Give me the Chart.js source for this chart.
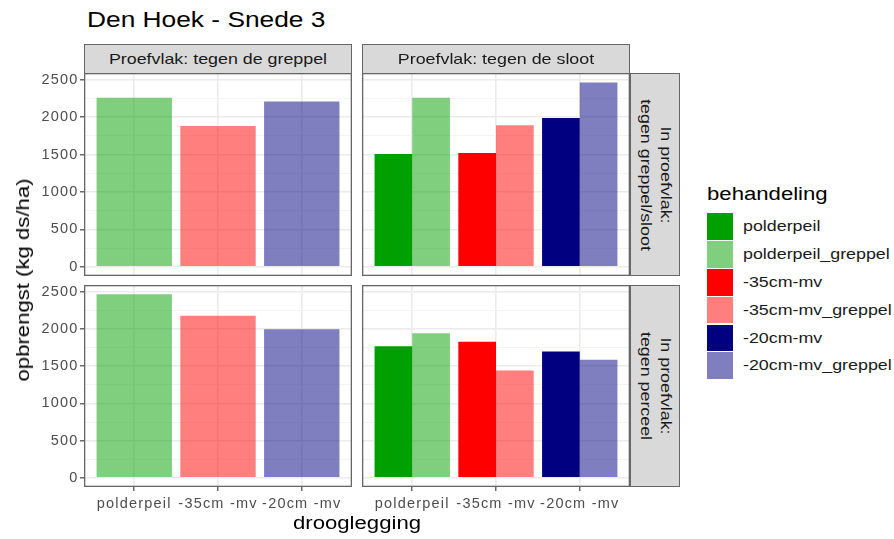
<!DOCTYPE html>
<html><head><meta charset="utf-8">
<script src="https://cdn.jsdelivr.net/npm/chart.js@4"></script>
<style>
html,body{margin:0;padding:0;background:#fff;}
#wrap{position:relative;width:894px;height:539px;overflow:hidden;font-family:"Liberation Sans",Arial,sans-serif;}
canvas{position:absolute;}
.t{position:absolute;white-space:nowrap;display:inline-block;}
.strip{position:absolute;background:#D9D9D9;border:1px solid #666;box-sizing:border-box;}
.key{position:absolute;width:26px;height:26.8px;}
</style></head>
<body><div id="wrap"></div>
<script>
// ---------- data ----------
const categories = ['polderpeil', '-35cm -mv', '-20cm -mv'];
const treatments = ['polderpeil', 'polderpeil_greppel', '-35cm-mv', '-35cm-mv_greppel', '-20cm-mv', '-20cm-mv_greppel'];
const treatmentColors = ['rgb(0,160,0)', 'rgba(0,160,0,0.5)', 'rgb(255,0,0)', 'rgba(255,0,0,0.5)', 'rgb(0,0,128)', 'rgba(0,0,128,0.5)'];
const baseColors = ['rgb(0,160,0)', 'rgb(255,0,0)', 'rgb(0,0,128)'];
const greppelColors = ['rgba(0,160,0,0.5)', 'rgba(255,0,0,0.5)', 'rgba(0,0,128,0.5)'];
const colFacets = ['Proefvlak: tegen de greppel', 'Proefvlak: tegen de sloot'];
const rowFacets = [['In proefvlak:', 'tegen greppel/sloot'], ['In proefvlak:', 'tegen perceel']];
const yTicks = [0, 500, 1000, 1500, 2000, 2500];
const titleText = 'Den Hoek - Snede 3';
const xTitle = 'drooglegging';
const yTitle = 'opbrengst (kg ds/ha)';
const legendTitle = 'behandeling';

// values (kg ds/ha)
const greppelRow1 = [2259, 1884, 2210];       // Proefvlak: tegen de greppel / tegen greppel/sloot
const greppelRow2 = [2468, 2177, 1997];       // Proefvlak: tegen de greppel / tegen perceel
const slootRow1Base = [1509, 1523, 1991];     // Proefvlak: tegen de sloot / tegen greppel/sloot
const slootRow1Greppel = [2259, 1894, 2464];
const slootRow2Base = [1769, 1828, 1698];     // Proefvlak: tegen de sloot / tegen perceel
const slootRow2Greppel = [1944, 1442, 1586];

// ---------- helpers ----------
const wrap = document.getElementById('wrap');
const SX = 1.23;
const FONT = '"Liberation Sans", Arial, sans-serif';
const yMaxData = 2468;
const Y_MIN = -0.05 * yMaxData, Y_MAX = 1.05 * yMaxData;
const yAll = [];
for (let i = 0; i < yTicks.length; i++) {
  yAll.push(yTicks[i]);
  if (i < yTicks.length - 1) yAll.push((yTicks[i] + yTicks[i + 1]) / 2);
}
const isMajor = v => yTicks.includes(v);

function text(str, opts) {
  const s = document.createElement('span');
  s.className = 't';
  s.textContent = str;
  s.style.fontSize = opts.size + 'px';
  s.style.lineHeight = (opts.lh || opts.size) + 'px';
  s.style.color = opts.color || '#000';
  s.style.left = opts.left + 'px';
  s.style.top = opts.top + 'px';
  s.style.transformOrigin = opts.origin || 'left center';
  s.style.transform = opts.transform || ('scaleX(' + SX + ')');
  wrap.appendChild(s);
  return s;
}

const toPts = arr => arr.map((v, i) => ({x: i + 1, y: v}));

const panelBorder = {
  id: 'panelBorder',
  afterDraw(chart) {
    const {ctx, chartArea: a} = chart;
    ctx.save();
    ctx.strokeStyle = '#666';
    ctx.lineWidth = 1.3;
    ctx.strokeRect(a.left + 0.65, a.top + 0.65, a.width - 1.3, a.height - 1.3);
    ctx.restore();
  }
};
const spacing = {
  id: 'spacing',
  beforeUpdate(chart) { chart.ctx.letterSpacing = '1.2px'; },
  beforeDraw(chart) { chart.ctx.letterSpacing = '1.2px'; }
};

function makePanel(p) {
  const c = document.createElement('canvas');
  c.width = p.width; c.height = p.height;
  c.style.left = p.left + 'px'; c.style.top = p.top + 'px';
  c.style.width = p.width + 'px'; c.style.height = p.height + 'px';
  wrap.appendChild(c);
  const tickFont = {family: FONT, size: 14.5};
  new Chart(c, {
    type: 'bar',
    data: {datasets: p.datasets},
    plugins: [panelBorder, spacing],
    options: {
      responsive: false, animation: false, devicePixelRatio: 1,
      layout: {padding: 0},
      plugins: {legend: {display: false}, tooltip: {enabled: false}},
      datasets: {bar: {categoryPercentage: 0.9, barPercentage: 1, borderWidth: 0}},
      scales: {
        x: {
          type: 'linear', min: 0.4, max: 3.6, offset: false,
          afterBuildTicks: s => { s.ticks = categories.map((_, i) => ({value: i + 1})); },
          afterFit: s => { s.height = p.xAxisH; s.paddingLeft = s.paddingRight = s.paddingTop = s.paddingBottom = 0; },
          ticks: {display: p.xAxisH > 0, autoSkip: false, maxRotation: 0, minRotation: 0, padding: 4.5,
                  color: '#4D4D4D', font: tickFont, callback: v => categories[Math.round(v) - 1]},
          grid: {offset: false, color: '#EBEBEB', lineWidth: 1.6, drawTicks: p.xAxisH > 0, tickLength: 4,
                 tickColor: '#444', tickWidth: 1.2},
          border: {display: false}
        },
        y: {
          type: 'linear', min: Y_MIN, max: Y_MAX,
          afterBuildTicks: s => { s.ticks = yAll.map(v => ({value: v})); },
          afterFit: s => { s.width = p.yAxisW; s.paddingLeft = s.paddingRight = s.paddingTop = s.paddingBottom = 0; },
          ticks: {display: p.yAxisW > 0, autoSkip: false, padding: 1.5, color: '#4D4D4D', font: tickFont,
                  callback: v => isMajor(v) ? String(v) : ''},
          grid: {
            offset: false,
            color: ctx => isMajor(ctx.tick.value) ? '#EBEBEB' : '#F3F3F3',
            lineWidth: ctx => isMajor(ctx.tick.value) ? 1.6 : 0.9,
            drawTicks: p.yAxisW > 0, tickLength: 4,
            tickColor: ctx => isMajor(ctx.tick.value) ? '#444' : 'rgba(0,0,0,0)',
            tickWidth: 1.2
          },
          border: {display: false}
        }
      }
    }
  });
}

// ---------- panels ----------
const PX = [84, 362], PW = 268;
const PY = [73, 285], PH = [203, 202];
const XAXIS_H = 32, YAXIS_W = 84;

function ds(values, colors) { return {data: toPts(values), backgroundColor: colors}; }

makePanel({left: 0, top: PY[0], width: PX[0] + PW, height: PH[0], yAxisW: YAXIS_W, xAxisH: 0,
  datasets: [ds(greppelRow1, greppelColors)]});
makePanel({left: PX[1], top: PY[0], width: PW, height: PH[0], yAxisW: 0, xAxisH: 0,
  datasets: [ds(slootRow1Base, baseColors), ds(slootRow1Greppel, greppelColors)]});
makePanel({left: 0, top: PY[1], width: PX[0] + PW, height: PH[1] + XAXIS_H, yAxisW: YAXIS_W, xAxisH: XAXIS_H,
  datasets: [ds(greppelRow2, greppelColors)]});
makePanel({left: PX[1], top: PY[1], width: PW, height: PH[1] + XAXIS_H, yAxisW: 0, xAxisH: XAXIS_H,
  datasets: [ds(slootRow2Base, baseColors), ds(slootRow2Greppel, greppelColors)]});

// ---------- strips ----------
colFacets.forEach((lab, i) => {
  const d = document.createElement('div');
  d.className = 'strip';
  Object.assign(d.style, {left: PX[i] + 'px', top: '44px', width: PW + 'px', height: '30px'});
  wrap.appendChild(d);
  text(lab, {size: 14.5, color: '#1A1A1A', left: PX[i] + PW / 2, top: 44 + 15 - 7.25,
             origin: 'center center', transform: 'translateX(-50%) scaleX(' + SX + ')'});
});
rowFacets.forEach((lines, i) => {
  const d = document.createElement('div');
  d.className = 'strip';
  Object.assign(d.style, {left: '630px', top: PY[i] + 'px', width: '50px', height: PH[i] + 'px'});
  wrap.appendChild(d);
  const t = document.createElement('div');
  t.className = 't';
  t.innerHTML = lines.map(l => '<div>' + l.replace(/&/g, '&amp;').replace(/</g, '&lt;') + '</div>').join('');
  Object.assign(t.style, {fontSize: '14.5px', lineHeight: '20px', color: '#1A1A1A', textAlign: 'center',
    left: '655.5px', top: (PY[i] + PH[i] / 2) + 'px', transformOrigin: 'center center',
    transform: 'translate(-50%,-50%) rotate(90deg) scaleX(' + SX + ')'});
  wrap.appendChild(t);
});

// ---------- titles ----------
text(titleText, {size: 21.4, left: 87, top: 9.6});
text(xTitle, {size: 18, left: 357, top: 514, origin: 'center center', transform: 'translateX(-50%) scaleX(' + SX + ')'});
text(yTitle, {size: 18, left: 23, top: 280, origin: 'center center',
  transform: 'translate(-50%,-50%) rotate(-90deg) scaleX(' + SX + ')'});

// ---------- legend ----------
text(legendTitle, {size: 18, left: 707, top: 185});
treatments.forEach((name, i) => {
  const top = 213.3 + i * 27.8;
  const k = document.createElement('div');
  k.className = 'key';
  Object.assign(k.style, {left: '707px', top: top + 'px', background: treatmentColors[i]});
  wrap.appendChild(k);
  text(name, {size: 14.5, color: '#1A1A1A', left: 743.3, top: top + 13.4 - 7.25});
});
</script>
</body></html>
